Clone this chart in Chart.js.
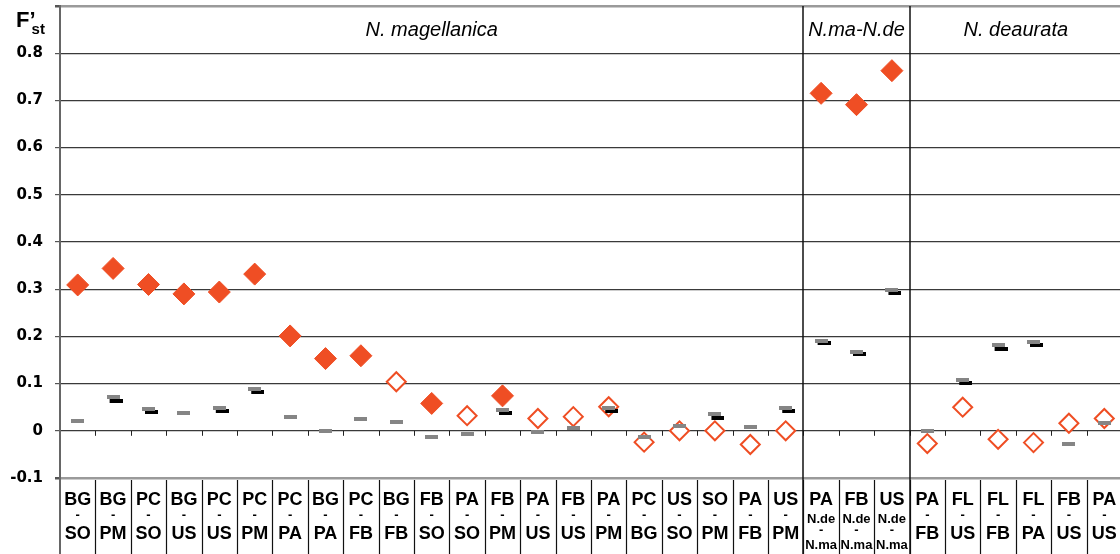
<!DOCTYPE html>
<html>
<head>
<meta charset="utf-8">
<script src="https://cdn.jsdelivr.net/npm/chart.js@4.4.0/dist/chart.umd.min.js"></script>
<style>
  html, body { margin: 0; padding: 0; background: #fff; overflow: hidden; }
  #wrap { width: 1123px; height: 554px; }
</style>
</head>
<body>
<div id="wrap"><canvas id="fst"></canvas></div>
<script>
// pairwise comparisons, one column each
const pairs = [
  ['BG', '-', 'SO'], ['BG', '-', 'PM'], ['PC', '-', 'SO'], ['BG', '-', 'US'], ['PC', '-', 'US'],
  ['PC', '-', 'PM'], ['PC', '-', 'PA'], ['BG', '-', 'PA'], ['PC', '-', 'FB'], ['BG', '-', 'FB'],
  ['FB', '-', 'SO'], ['PA', '-', 'SO'], ['FB', '-', 'PM'], ['PA', '-', 'US'], ['FB', '-', 'US'],
  ['PA', '-', 'PM'], ['PC', '-', 'BG'], ['US', '-', 'SO'], ['SO', '-', 'PM'], ['PA', '-', 'FB'],
  ['US', '-', 'PM'],
  ['PA', 'N.de', '-', 'N.ma'], ['FB', 'N.de', '-', 'N.ma'], ['US', 'N.de', '-', 'N.ma'],
  ['PA', '-', 'FB'], ['FL', '-', 'US'], ['FL', '-', 'FB'], ['FL', '-', 'PA'], ['FB', '-', 'US'],
  ['PA', '-', 'US']
];

const groupNames = ['N. magellanica', 'N.ma-N.de', 'N. deaurata'];
const groupSizes = [21, 3, 6];

// observed F'st, significant (filled) and not significant (open)
const fstSig = [0.309, 0.344, 0.310, 0.290, 0.294, 0.332, 0.201, 0.153, 0.159, null,
  0.058, null, 0.074, null, null, null, null, null, null, null,
  null, 0.715, 0.691, 0.763, null, null, null, null, null, null];
const fstNs = [null, null, null, null, null, null, null, null, null, 0.104,
  null, 0.032, null, 0.026, 0.030, 0.051, -0.024, 0.000, 0.000, -0.029,
  0.000, null, null, null, -0.027, 0.050, -0.018, -0.025, 0.016, 0.026];

// expected values (grey) and their upper bound where shown (black)
const expGrey = [0.021, 0.071, 0.047, 0.037, 0.049, 0.088, 0.030, -0.001, 0.026, 0.019,
  -0.013, -0.006, 0.044, -0.002, 0.006, 0.049, -0.013, 0.011, 0.035, 0.008,
  0.049, 0.191, 0.168, 0.298, 0.000, 0.108, 0.181, 0.188, -0.029, 0.017];
const expBlack = [null, 0.064, 0.040, null, 0.042, 0.082, null, null, null, null,
  null, null, 0.038, null, null, 0.043, null, null, 0.028, null,
  0.042, 0.185, 0.162, 0.291, null, 0.101, 0.174, 0.181, null, null];

const yTicks = { min: -0.1, max: 0.9, step: 0.1 };

const RED = '#EF4E24';

// small bar used as a point marker; shift moves it sideways
function dash(color, w, h, shift) {
  const c = document.createElement('canvas');
  const pad = Math.abs(shift);
  c.width = w + 2 * pad;
  c.height = h;
  const g = c.getContext('2d');
  g.fillStyle = color;
  g.fillRect(pad + shift, 0, w, h);
  return c;
}

const tablePlugin = {
  id: 'table',
  beforeDatasetsDraw(chart) {
    const { ctx, chartArea: a, scales: { y } } = chart;
    const bw = a.width / pairs.length;
    const zero = y.getPixelForValue(0);
    const H = chart.height;
    ctx.save();
    // small ticks along the zero line
    ctx.strokeStyle = '#222';
    ctx.lineWidth = 1;
    for (let i = 1; i < pairs.length; i++) {
      const bx = Math.round(a.left + i * bw) + 0.5;
      ctx.beginPath();
      ctx.moveTo(bx, zero);
      ctx.lineTo(bx, zero + 5);
      ctx.stroke();
    }
    // cells of the label row
    ctx.strokeStyle = '#111';
    ctx.lineWidth = 1.2;
    for (let i = 1; i <= pairs.length; i++) {
      const bx = Math.round(a.left + i * bw) + 0.5;
      ctx.beginPath();
      ctx.moveTo(bx, a.bottom + 2);
      ctx.lineTo(bx, H);
      ctx.stroke();
    }
    // group separators, full height
    ctx.lineWidth = 1.5;
    let n = 0;
    for (let g = 0; g < groupSizes.length - 1; g++) {
      n += groupSizes[g];
      const bx = Math.round(a.left + n * bw);
      ctx.beginPath();
      ctx.moveTo(bx, a.top);
      ctx.lineTo(bx, H);
      ctx.stroke();
    }
    // y axis continued down through the label row
    ctx.strokeStyle = '#666';
    ctx.lineWidth = 2;
    ctx.beginPath();
    ctx.moveTo(a.left, a.bottom);
    ctx.lineTo(a.left, H);
    ctx.stroke();
    ctx.restore();
  },
  afterDraw(chart) {
    const { ctx, chartArea: a, scales: { x, y } } = chart;
    const bw = a.width / pairs.length;
    ctx.save();
    ctx.fillStyle = '#000';
    ctx.textAlign = 'center';
    ctx.textBaseline = 'middle';
    const big = 'bold 18px "Liberation Sans", Arial, sans-serif';
    const small = 'bold 13px "Liberation Sans", Arial, sans-serif';
    pairs.forEach((lines, i) => {
      const cx = x.getPixelForValue(i);
      if (lines.length === 3) {
        ctx.font = big;
        ctx.fillText(lines[0], cx, 500);
        ctx.font = small;
        ctx.fillText(lines[1], cx, 515);
        ctx.font = big;
        ctx.fillText(lines[2], cx, 534);
      } else {
        ctx.font = big;
        ctx.fillText(lines[0], cx, 500);
        ctx.font = small;
        ctx.fillText(lines[1], cx, 519);
        ctx.fillText(lines[2], cx, 530);
        ctx.fillText(lines[3], cx, 545);
      }
    });
    // group titles
    ctx.font = 'italic 20px "Liberation Sans", Arial, sans-serif';
    let n = 0;
    groupNames.forEach((name, g) => {
      const cx = a.left + (n + groupSizes[g] / 2) * bw;
      ctx.fillText(name, cx, 30);
      n += groupSizes[g];
    });
    // axis title F'st at the top tick
    const ty = y.getPixelForValue(yTicks.max);
    ctx.textAlign = 'left';
    ctx.textBaseline = 'alphabetic';
    ctx.font = 'bold 22px "Liberation Sans", Arial, sans-serif';
    ctx.fillText('F\u2019', 16, ty + 21);
    const fw = ctx.measureText('F\u2019').width;
    ctx.font = 'bold 15px "Liberation Sans", Arial, sans-serif';
    ctx.fillText('st', 16 + fw - 4, ty + 28);
    ctx.restore();
  }
};

const isEdge = v => Math.abs(v - yTicks.max) < 1e-6 || Math.abs(v - yTicks.min) < 1e-6;

new Chart(document.getElementById('fst'), {
  type: 'line',
  data: {
    labels: pairs.map(p => p.join(' ')),
    // first dataset is painted last, so the bars sit over the open diamonds
    datasets: [
      {
        label: 'expected',
        data: expGrey,
        showLine: false,
        pointStyle: dash('#858585', 13, 4, 0)
      },
      {
        label: 'expected upper',
        data: expBlack,
        showLine: false,
        pointStyle: dash('#000', 13, 4, 3)
      },
      {
        label: 'significant',
        data: fstSig,
        showLine: false,
        pointStyle: 'rectRot',
        pointRadius: 11,
        pointBackgroundColor: RED,
        pointBorderColor: RED,
        pointBorderWidth: 1
      },
      {
        label: 'not significant',
        data: fstNs,
        showLine: false,
        pointStyle: 'rectRot',
        pointRadius: 9.5,
        pointBackgroundColor: '#fff',
        pointBorderColor: RED,
        pointBorderWidth: 2
      }
    ]
  },
  plugins: [tablePlugin],
  options: {
    responsive: true,
    maintainAspectRatio: false,
    animation: false,
    layout: { autoPadding: false, padding: { top: 6, right: 1, left: 0, bottom: 0 } },
    plugins: {
      legend: { display: false },
      tooltip: { enabled: false }
    },
    scales: {
      x: {
        offset: true,
        grid: { display: false },
        border: { display: false },
        ticks: { display: false },
        afterFit(scale) { scale.height = 76; }
      },
      y: {
        min: yTicks.min,
        max: yTicks.max,
        afterFit(scale) {
          scale.width = 60;
          scale.paddingTop = 0;
          scale.paddingBottom = 0;
        },
        border: { color: '#666', width: 2 },
        grid: {
          color: c => isEdge(c.tick.value) ? '#9a9a9a' : '#3a3a3a',
          lineWidth: c => isEdge(c.tick.value) ? 2.5 : 1.2,
          tickLength: 5,
          tickColor: '#555'
        },
        ticks: {
          stepSize: yTicks.step,
          padding: 12,
          color: '#000',
          font: { family: 'DejaVu Sans', size: 15, weight: 'bold' },
          callback: v => Math.abs(v - yTicks.max) < 1e-6 ? '' : String(Math.round(v * 10) / 10)
        }
      }
    }
  }
});
</script>
</body>
</html>
